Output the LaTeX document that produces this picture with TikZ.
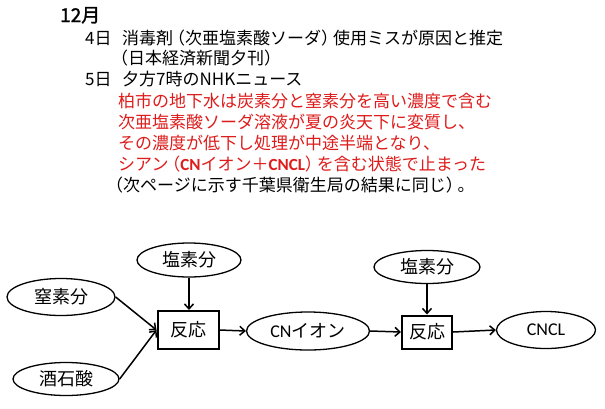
\documentclass[tikz,border=0pt]{standalone}
\usepackage{fontspec}
\setmainfont{Noto Sans CJK JP}[AutoFakeBold=1.5]
\newfontfamily\calib{Carlito}
\usetikzlibrary{shapes.geometric,arrows.meta}
\definecolor{txtred}{RGB}{222,28,28}
\newcommand\LP{\hspace{-0.3em}（}
\newcommand\RP{）\hspace{-0.3em}}
\begin{document}
\begin{tikzpicture}[x=1pt,y=-1pt,
  oval/.style={ellipse, draw, line width=1.3pt, inner sep=0pt, font=\fontsize{18}{18}\selectfont},
  rbox/.style={rectangle, draw, line width=2pt, inner sep=0pt, font=\fontsize{18}{18}\selectfont},
  arr/.style={line width=1.5pt, -{Straight Barb[length=5pt,width=9pt]}},
  txt/.style={anchor=base west, inner sep=0pt, font=\fontsize{17}{17}\selectfont},
  red/.style={txt, text=txtred}]
\fill[white] (0,0) rectangle (605,408);
\useasboundingbox (0,0) rectangle (605,408);
% text block
\node[txt, font=\fontsize{19}{19}\selectfont\bfseries] (t1) at (60,22) {12月};
\node[txt] (t2) at (85,44) {4日};
\node[txt] (t3) at (122,44) {消毒剤\LP{}次亜塩素酸ソーダ\RP{}使用ミスが原因と推定};
\node[txt] (t4) at (116,64) {\LP{}日本経済新聞夕刊\RP{}};
\node[txt] (t5) at (85,85) {5日};
\node[txt] (t6) at (122,85) {夕方7時のNHKニュース};
\node[red] (r1t) at (118,107) {柏市の地下水は炭素分と窒素分を高い濃度で含む};
\node[red] (r2t) at (118,128) {次亜塩素酸ソーダ溶液が夏の炎天下に変質し、};
\node[red] (r3t) at (118,149) {その濃度が低下し処理が中途半端となり、};
\node[red] (r4t) at (118,170) {シアン\LP{}{\calib\bfseries CN}イオン＋{\calib\bfseries CNCL}\RP{}を含む状態で止まった};
\node[txt] (t7) at (111,191) {\LP{}次ページに示す千葉県衛生局の結果に同じ\RP{}。};
% diagram
\node[oval, minimum width=104pt, minimum height=34pt] (cl1) at (189,260) {塩素分};
\node[oval, minimum width=108pt, minimum height=37pt] (ns) at (61,297) {窒素分};
\node[oval, minimum width=106pt, minimum height=33pt] (ta) at (66,379) {酒石酸};
\node[rbox, minimum width=61pt, minimum height=38pt] (re1) at (188,330) {反応};
\node[oval, minimum width=123pt, minimum height=38pt] (cn) at (308,331) {{\calib CN}イオン};
\node[rbox, minimum width=50pt, minimum height=33pt] (re2) at (427,332) {反応};
\node[oval, minimum width=106pt, minimum height=33pt] (cl2) at (427,267) {塩素分};
\node[oval, minimum width=99pt, minimum height=37pt] (cncl) at (546,330) {\calib CNCL};
\draw[arr] (cl1.south) -- (cl1.south |- re1.north);
\draw[arr] (ns.east) -- (re1.west);
\draw[arr] (ta.east) -- (re1.west);
\draw[arr] (re1.east) -- (cn.west);
\draw[arr] (cn.east) -- (re2.west);
\draw[arr] (re2.east) -- (cncl.west);
\draw[arr] (cl2.south) -- (cl2.south |- re2.north);
\end{tikzpicture}
\end{document}
